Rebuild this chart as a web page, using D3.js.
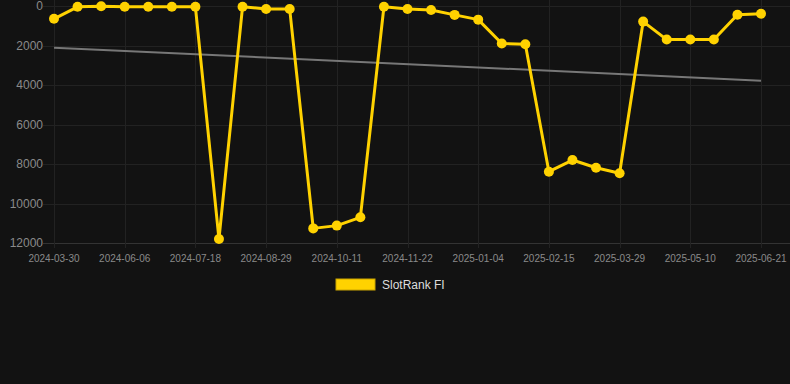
<!DOCTYPE html>
<html>
<head>
<meta charset="utf-8">
<script src="https://cdn.jsdelivr.net/npm/d3@7"></script>
<style>
  html, body { margin: 0; padding: 0; background: #121212; }
  svg { display: block; }
  text { font-family: "Liberation Sans", Arial, sans-serif; }
</style>
</head>
<body>
<script>
var w = 790, h = 384;

// category labels (only every third one is drawn on the axis)
var dates = [
  "2024-03-30", "2024-04-22", "2024-05-15", "2024-06-06", "2024-06-20", "2024-07-04",
  "2024-07-18", "2024-08-01", "2024-08-15", "2024-08-29", "2024-09-12", "2024-09-26",
  "2024-10-11", "2024-10-25", "2024-11-08", "2024-11-22", "2024-12-06", "2024-12-20",
  "2025-01-04", "2025-01-18", "2025-02-01", "2025-02-15", "2025-03-01", "2025-03-15",
  "2025-03-29", "2025-04-12", "2025-04-26", "2025-05-10", "2025-05-24", "2025-06-07",
  "2025-06-21"
];
var rank = [
  650, 40, 10, 40, 40, 40,
  40, 11800, 40, 150, 150, 11260,
  11120, 10700, 40, 150, 200, 450,
  690, 1900, 1940, 8390, 7800, 8190,
  8470, 790, 1700, 1700, 1700, 440,
  390
];
var trend = [2110, 3780]; // gray trend line, start and end values
var yTicks = [0, 2000, 4000, 6000, 8000, 10000, 12000];
var seriesName = "SlotRank FI";

var plotLeft = 54, plotRight = 761, plotTop = 6, plotBottom = 243;

var svg = d3.select("body").append("svg")
  .attr("width", w)
  .attr("height", h);

svg.append("rect").attr("width", w).attr("height", h).attr("fill", "#121212");

var x = d3.scalePoint().domain(dates).range([plotLeft, plotRight]);
var y = d3.scaleLinear().domain([0, 12000]).range([plotTop, plotBottom]);

var shown = dates.filter(function(d, i){ return i % 3 == 0; });

// grid
svg.append("g")
  .selectAll("line")
  .data(yTicks)
  .join("line")
  .attr("x1", 43).attr("x2", w)
  .attr("y1", function(d){ return Math.round(y(d)) + 0.5; })
  .attr("y2", function(d){ return Math.round(y(d)) + 0.5; })
  .attr("stroke", function(d){ return d == 12000 ? "#333" : "#222"; })
  .attr("stroke-width", 1);

svg.append("g")
  .selectAll("line")
  .data(shown)
  .join("line")
  .attr("x1", function(d){ return Math.round(x(d)) + 0.5; })
  .attr("x2", function(d){ return Math.round(x(d)) + 0.5; })
  .attr("y1", 0).attr("y2", plotBottom + 5)
  .attr("stroke", "#222")
  .attr("stroke-width", 1);

// y labels
svg.append("g")
  .selectAll("text")
  .data(yTicks)
  .join("text")
  .attr("x", 43)
  .attr("y", function(d){ return y(d) + 4; })
  .attr("text-anchor", "end")
  .attr("fill", "#8a8a8a")
  .attr("font-size", "12px")
  .text(function(d){ return d; });

// x labels
svg.append("g")
  .selectAll("text")
  .data(shown)
  .join("text")
  .attr("x", function(d){ return x(d); })
  .attr("y", plotBottom + 19)
  .attr("text-anchor", "middle")
  .attr("fill", "#8a8a8a")
  .attr("font-size", "10px")
  .text(function(d){ return d; });

// trend line
svg.append("line")
  .attr("x1", x(dates[0])).attr("y1", y(trend[0]))
  .attr("x2", x(dates[dates.length - 1])).attr("y2", y(trend[1]))
  .attr("stroke", "#777")
  .attr("stroke-width", 2);

// main series
var line = d3.line()
  .x(function(d, i){ return x(dates[i]); })
  .y(function(d){ return y(d); });

svg.append("path")
  .datum(rank)
  .attr("d", line)
  .attr("fill", "none")
  .attr("stroke", "#FFD200")
  .attr("stroke-width", 3)
  .attr("stroke-linejoin", "round");

svg.append("g")
  .selectAll("circle")
  .data(rank)
  .join("circle")
  .attr("cx", function(d, i){ return x(dates[i]); })
  .attr("cy", function(d){ return y(d); })
  .attr("r", 5)
  .attr("fill", "#FFD200");

// legend
svg.append("rect")
  .attr("x", 336).attr("y", 279)
  .attr("width", 39).attr("height", 11)
  .attr("fill", "#FFD200")
  .attr("stroke", "#c9a400")
  .attr("stroke-width", 1);

svg.append("text")
  .attr("x", 382).attr("y", 289)
  .attr("fill", "#dddddd")
  .attr("font-size", "12px")
  .text(seriesName);
</script>
</body>
</html>
